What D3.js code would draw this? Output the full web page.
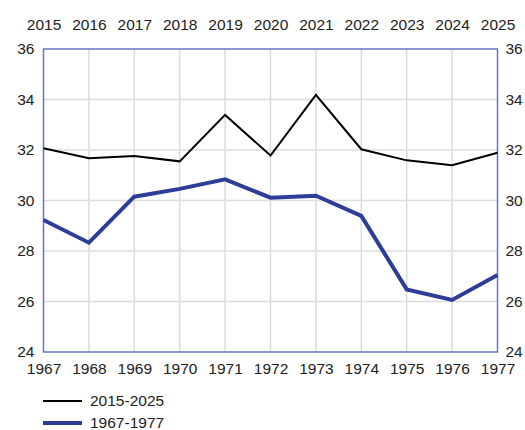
<!DOCTYPE html>
<html>
<head>
<meta charset="utf-8">
<script src="https://cdn.jsdelivr.net/npm/d3@7"></script>
<style>
  body { margin: 0; background: #fff; }
  svg text { font-family: "Liberation Sans", Arial, sans-serif; fill: #222; }
</style>
</head>
<body>
<svg id="chart" width="525" height="430"></svg>
<script>
// Years on the top axis (recent period) and bottom axis (earlier period).
var recentYears = [2015, 2016, 2017, 2018, 2019, 2020, 2021, 2022, 2023, 2024, 2025];
var earlyYears = [1967, 1968, 1969, 1970, 1971, 1972, 1973, 1974, 1975, 1976, 1977];
// Values.
var recentValues = [32.07, 31.67, 31.76, 31.55, 33.39, 31.78, 34.18, 32.03, 31.59, 31.40, 31.89];
var earlyValues = [29.23, 28.33, 30.15, 30.46, 30.84, 30.11, 30.19, 29.39, 26.48, 26.06, 27.05];
var yTicks = [24, 26, 28, 30, 32, 34, 36];
var seriesNames = ["2015-2025", "1967-1977"];

var margin = { top: 49, right: 27.5, bottom: 78, left: 43.5 };
var width = 525 - margin.left - margin.right;
var height = 430 - margin.top - margin.bottom;

var svg = d3.select("#chart");
var g = svg.append("g")
    .attr("transform", "translate(" + margin.left + "," + margin.top + ")");

// Both periods share the same horizontal positions, index 0..10.
var x = d3.scaleLinear()
    .domain([0, recentYears.length - 1])
    .range([0, width]);
var y = d3.scaleLinear()
    .domain([24, 36])
    .range([height, 0]);

// Grid lines.
g.append("g")
    .selectAll("line")
    .data(d3.range(1, recentYears.length - 1))
    .enter()
    .append("line")
    .attr("x1", function (d) { return x(d); })
    .attr("x2", function (d) { return x(d); })
    .attr("y1", 0)
    .attr("y2", height)
    .attr("stroke", "#dcdcdc")
    .attr("stroke-width", 1.5);
g.append("g")
    .selectAll("line")
    .data(yTicks.slice(1, -1))
    .enter()
    .append("line")
    .attr("x1", 0)
    .attr("x2", width)
    .attr("y1", function (d) { return y(d); })
    .attr("y2", function (d) { return y(d); })
    .attr("stroke", "#dcdcdc")
    .attr("stroke-width", 1.5);

// Axes: ticks hidden, labels only.
var bottomAxis = d3.axisBottom(x)
    .tickValues(d3.range(earlyYears.length))
    .tickFormat(function (i) { return earlyYears[i]; })
    .tickSize(0)
    .tickPadding(11);
var topAxis = d3.axisTop(x)
    .tickValues(d3.range(recentYears.length))
    .tickFormat(function (i) { return recentYears[i]; })
    .tickSize(0)
    .tickPadding(19);
var leftAxis = d3.axisLeft(y)
    .tickValues(yTicks)
    .tickSize(0)
    .tickPadding(9);
var rightAxis = d3.axisRight(y)
    .tickValues(yTicks)
    .tickSize(0)
    .tickPadding(8);

g.append("g").attr("transform", "translate(0," + height + ")").call(bottomAxis);
g.append("g").call(topAxis);
g.append("g").call(leftAxis);
g.append("g").attr("transform", "translate(" + width + ",0)").call(rightAxis);
g.selectAll(".domain").remove();
g.selectAll(".tick text")
    .style("font-size", "15.5px")
    .attr("fill", "#222");

// Plot frame.
g.append("rect")
    .attr("x", 0)
    .attr("y", 0)
    .attr("width", width)
    .attr("height", height)
    .attr("fill", "none")
    .attr("stroke", "#6a74c4")
    .attr("stroke-width", 1.5);

var line = d3.line()
    .x(function (d, i) { return x(i); })
    .y(function (d) { return y(d); });

g.append("path")
    .datum(earlyValues)
    .attr("d", line)
    .attr("fill", "none")
    .attr("stroke", "#2e3d98")
    .attr("stroke-width", 4);
g.append("path")
    .datum(recentValues)
    .attr("d", line)
    .attr("fill", "none")
    .attr("stroke", "#000")
    .attr("stroke-width", 2);

// Legend.
var legend = svg.append("g");
var legendItems = [
    { name: seriesNames[0], color: "#000", width: 2, y: 401 },
    { name: seriesNames[1], color: "#2e3d98", width: 4, y: 423 }
];
legend.selectAll("line")
    .data(legendItems)
    .enter()
    .append("line")
    .attr("x1", 43)
    .attr("x2", 82)
    .attr("y1", function (d) { return d.y; })
    .attr("y2", function (d) { return d.y; })
    .attr("stroke", function (d) { return d.color; })
    .attr("stroke-width", function (d) { return d.width; });
legend.selectAll("text")
    .data(legendItems)
    .enter()
    .append("text")
    .attr("x", 90)
    .attr("y", function (d) { return d.y; })
    .attr("dy", "0.35em")
    .style("font-size", "15.5px")
    .text(function (d) { return d.name; });
</script>
</body>
</html>
